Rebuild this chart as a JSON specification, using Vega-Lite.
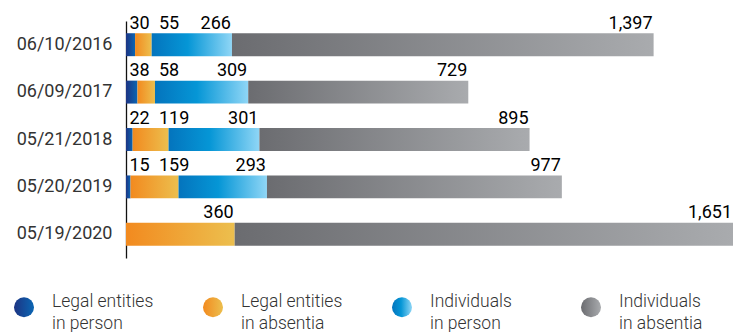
{
  "$schema": "https://vega.github.io/schema/vega-lite/v6.json",
  "width": 607,
  "height": 237,
  "autosize": {"type": "none"},
  "padding": {"left": 126, "top": 21, "right": 5, "bottom": 74},
  "background": "white",
  "config": {
    "view": {"stroke": null},
    "font": "Roboto",
    "style": {"guide-label": {"lineHeight": 22}}
  },
  "data": {
    "values": [
      {"date": "06/10/2016", "series": "Legal entities in person", "seq": 1, "value": 30},
      {"date": "06/10/2016", "series": "Legal entities in absentia", "seq": 2, "value": 55},
      {"date": "06/10/2016", "series": "Individuals in person", "seq": 3, "value": 266},
      {"date": "06/10/2016", "series": "Individuals in absentia", "seq": 4, "value": 1397},
      {"date": "06/09/2017", "series": "Legal entities in person", "seq": 1, "value": 38},
      {"date": "06/09/2017", "series": "Legal entities in absentia", "seq": 2, "value": 58},
      {"date": "06/09/2017", "series": "Individuals in person", "seq": 3, "value": 309},
      {"date": "06/09/2017", "series": "Individuals in absentia", "seq": 4, "value": 729},
      {"date": "05/21/2018", "series": "Legal entities in person", "seq": 1, "value": 22},
      {"date": "05/21/2018", "series": "Legal entities in absentia", "seq": 2, "value": 119},
      {"date": "05/21/2018", "series": "Individuals in person", "seq": 3, "value": 301},
      {"date": "05/21/2018", "series": "Individuals in absentia", "seq": 4, "value": 895},
      {"date": "05/20/2019", "series": "Legal entities in person", "seq": 1, "value": 15},
      {"date": "05/20/2019", "series": "Legal entities in absentia", "seq": 2, "value": 159},
      {"date": "05/20/2019", "series": "Individuals in person", "seq": 3, "value": 293},
      {"date": "05/20/2019", "series": "Individuals in absentia", "seq": 4, "value": 977},
      {"date": "05/19/2020", "series": "Legal entities in absentia", "seq": 2, "value": 360},
      {"date": "05/19/2020", "series": "Individuals in absentia", "seq": 4, "value": 1651}
    ]
  },
  "transform": [
    {"stack": "value", "groupby": ["date"], "sort": [{"field": "seq", "order": "ascending"}], "as": ["v0", "v1"]}
  ],
  "encoding": {
    "y": {
      "field": "date",
      "type": "nominal",
      "sort": ["06/10/2016", "06/09/2017", "05/21/2018", "05/20/2019", "05/19/2020"],
      "scale": {"paddingInner": 0.516, "paddingOuter": 0.258},
      "axis": {
        "title": null,
        "ticks": false,
        "tickSize": 0,
        "grid": false,
        "labelFont": "Roboto",
        "labelFontSize": 18,
        "labelColor": "#333333",
        "labelPadding": 14,
        "domainColor": "#111111",
        "domainWidth": 1.3
      }
    }
  },
  "layer": [
    {
      "mark": {"type": "bar"},
      "encoding": {
        "x": {"field": "v0", "type": "quantitative", "scale": {"domain": [0, 2011], "nice": false, "zero": true}, "axis": null},
        "x2": {"field": "v1"},
        "color": {
          "field": "series",
          "type": "nominal",
          "scale": {
            "domain": ["Legal entities in person", "Legal entities in absentia", "Individuals in person", "Individuals in absentia"],
            "range": [
              {"expr": "{gradient: 'linear', x1: 0, y1: 0, x2: 1, y2: 0, stops: [{offset: 0, color: '#1d3483'}, {offset: 1, color: '#0b66b3'}]}"},
              {"expr": "{gradient: 'linear', x1: 0, y1: 0, x2: 1, y2: 0, stops: [{offset: 0, color: '#f28a1f'}, {offset: 1, color: '#ecbf4e'}]}"},
              {"expr": "{gradient: 'linear', x1: 0, y1: 0, x2: 1, y2: 0, stops: [{offset: 0, color: '#0474bd'}, {offset: 0.45, color: '#0596d6'}, {offset: 1, color: '#8fd6f6'}]}"},
              {"expr": "{gradient: 'linear', x1: 0, y1: 0, x2: 1, y2: 0, stops: [{offset: 0, color: '#6b6c70'}, {offset: 1, color: '#a9abae'}]}"}
            ]
          },
          "legend": {
            "orient": "none",
            "legendX": -112,
            "legendY": 276,
            "direction": "horizontal",
            "columns": 4,
            "title": null,
            "padding": 0,
            "symbolType": "circle",
            "symbolSize": 400,
            "symbolStrokeWidth": 0,
            "symbolOpacity": 1,
            "labelFont": "Roboto",
            "labelFontSize": 17.5,
            "labelFontWeight": 300,
            "labelColor": "#333333",
            "labelOffset": 18,
            "labelBaseline": "alphabetic",
            "labelLimit": 200,
            "columnPadding": 49,
            "gridAlign": "all",
            "labelExpr": "[slice(datum.label, 0, indexof(datum.label, ' in ')), slice(datum.label, indexof(datum.label, ' in ') + 1)]"
          }
        }
      }
    },
    {
      "transform": [{"filter": "datum.series == 'Legal entities in person'"}],
      "mark": {"type": "text", "align": "left", "baseline": "alphabetic", "dx": 3.5, "dy": -16, "font": "Roboto", "fontSize": 18, "fontWeight": 400, "color": "#000000"},
      "encoding": {
        "x": {"datum": 0, "type": "quantitative", "axis": null},
        "text": {"field": "value", "type": "quantitative", "format": ",d"}
      }
    },
    {
      "transform": [{"filter": "datum.series == 'Legal entities in absentia' && datum.value < 300"}],
      "mark": {"type": "text", "align": "left", "baseline": "alphabetic", "dx": 33, "dy": -16, "font": "Roboto", "fontSize": 18, "fontWeight": 400, "color": "#000000"},
      "encoding": {
        "x": {"datum": 0, "type": "quantitative", "axis": null},
        "text": {"field": "value", "type": "quantitative", "format": ",d"}
      }
    },
    {
      "transform": [{"filter": "!(datum.series == 'Legal entities in person' || (datum.series == 'Legal entities in absentia' && datum.value < 300))"}],
      "mark": {"type": "text", "align": "right", "baseline": "alphabetic", "dx": -1, "dy": -16, "font": "Roboto", "fontSize": 18, "fontWeight": 400, "color": "#000000"},
      "encoding": {
        "x": {"field": "v1", "type": "quantitative", "axis": null},
        "text": {"field": "value", "type": "quantitative", "format": ",d"}
      }
    }
  ]
}
